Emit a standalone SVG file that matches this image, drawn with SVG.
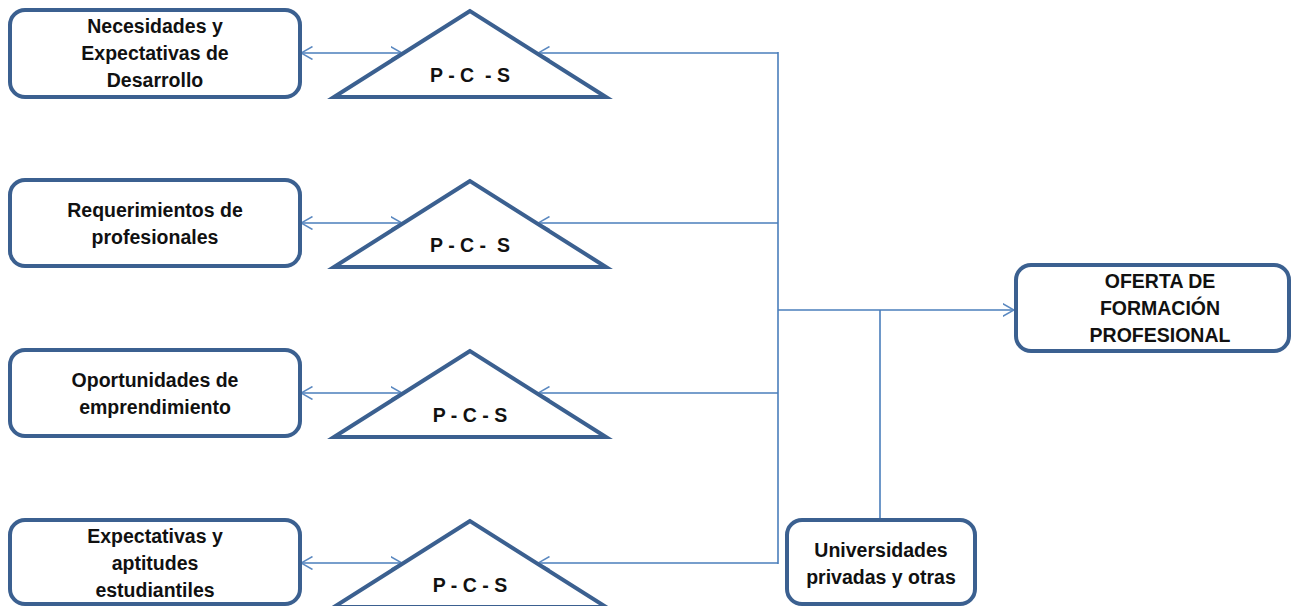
<svg xmlns="http://www.w3.org/2000/svg" width="1294" height="606" viewBox="0 0 1294 606">
<style>
.box{fill:#fff;stroke:#3b6090;stroke-width:4}
.tri{fill:#fff;stroke:#3b6090;stroke-width:4;stroke-linejoin:miter}
.t{font-family:"Liberation Sans",Arial,sans-serif;font-weight:bold;font-size:19.5px;fill:#111;text-anchor:middle;white-space:pre}
.c{fill:none;stroke:#4a7ebb;stroke-width:1.6}
</style>
<defs>
<marker id="ah" viewBox="0 0 12 14" refX="11.5" refY="7" markerWidth="12" markerHeight="14" markerUnits="userSpaceOnUse" orient="auto-start-reverse">
<path d="M0,0.5 L11.5,7 L0,13.5" fill="none" stroke="#5a88c0" stroke-width="1.5"/>
</marker>
</defs>
<rect width="1294" height="606" fill="#fff"/>
<g id="connectors">
<line class="c" x1="301" y1="53" x2="402" y2="53" marker-start="url(#ah)" marker-end="url(#ah)"/>
<line class="c" x1="301" y1="223" x2="402" y2="223" marker-start="url(#ah)" marker-end="url(#ah)"/>
<line class="c" x1="301" y1="393" x2="402" y2="393" marker-start="url(#ah)" marker-end="url(#ah)"/>
<line class="c" x1="301" y1="563" x2="402" y2="563" marker-start="url(#ah)" marker-end="url(#ah)"/>
<line class="c" x1="778" y1="53" x2="538" y2="53" marker-end="url(#ah)"/>
<line class="c" x1="778" y1="223" x2="538" y2="223" marker-end="url(#ah)"/>
<line class="c" x1="778" y1="393" x2="538" y2="393" marker-end="url(#ah)"/>
<line class="c" x1="778" y1="563" x2="538" y2="563" marker-end="url(#ah)"/>
<line class="c" x1="778" y1="52" x2="778" y2="564"/>
<line class="c" x1="778" y1="310" x2="1014" y2="310" marker-end="url(#ah)"/>
<line class="c" x1="880" y1="310" x2="880" y2="520"/>
</g>
<g id="n1"><rect class="box" x="10" y="10" width="290" height="87" rx="15"/>
<text class="t" x="155" y="33">Necesidades y</text><text class="t" x="155" y="60">Expectativas de</text><text class="t" x="155" y="87">Desarrollo</text></g>
<g id="n2"><rect class="box" x="10" y="180" width="290" height="86" rx="15"/>
<text class="t" x="155" y="217">Requerimientos de</text><text class="t" x="155" y="244">profesionales</text></g>
<g id="n3"><rect class="box" x="10" y="350" width="290" height="86" rx="15"/>
<text class="t" x="155" y="387">Oportunidades de</text><text class="t" x="155" y="414">emprendimiento</text></g>
<g id="n4"><rect class="box" x="10" y="520" width="290" height="84" rx="15"/>
<text class="t" x="155" y="543">Expectativas y</text><text class="t" x="155" y="570">aptitudes</text><text class="t" x="155" y="597">estudiantiles</text></g>
<g id="tri1"><polygon class="tri" points="470,11 334,97 606,97"/><text class="t" x="470" y="82">P - C  - S</text></g>
<g id="tri2"><polygon class="tri" points="470,181 334,267 606,267"/><text class="t" x="470" y="252">P - C -  S</text></g>
<g id="tri3"><polygon class="tri" points="470,351 334,437 606,437"/><text class="t" x="470" y="422">P - C - S</text></g>
<g id="tri4"><polygon class="tri" points="470,521 334,607 606,607"/><text class="t" x="470" y="592">P - C - S</text></g>
<g id="oferta"><rect class="box" x="1016" y="265" width="273" height="86" rx="15"/>
<text class="t" x="1160" y="288">OFERTA DE</text><text class="t" x="1160" y="315">FORMACIÓN</text><text class="t" x="1160" y="342">PROFESIONAL</text></g>
<g id="univ"><rect class="box" x="787" y="520" width="188" height="84" rx="15"/>
<text class="t" x="881" y="557">Universidades</text><text class="t" x="881" y="584">privadas y otras</text></g>
</svg>
